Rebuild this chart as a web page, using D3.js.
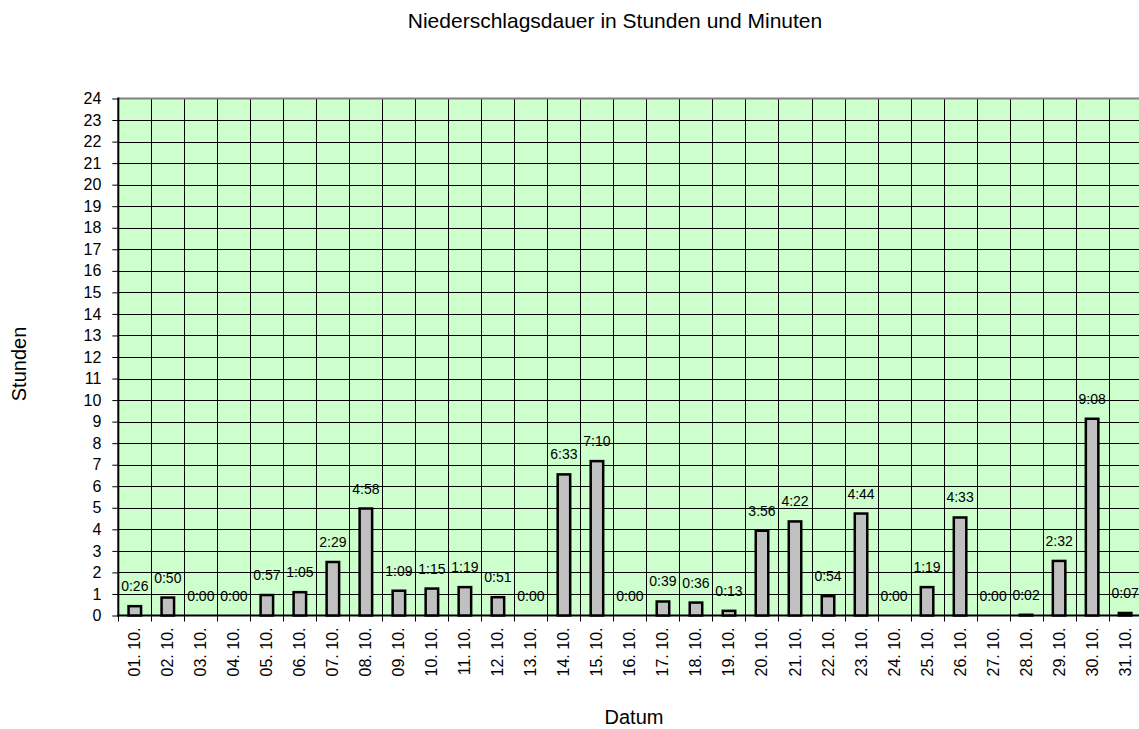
<!DOCTYPE html>
<html><head><meta charset="utf-8">
<script src="https://cdn.jsdelivr.net/npm/d3@7"></script>
<style>body{margin:0;background:#fff}svg{display:block;font-family:"Liberation Sans",Arial,sans-serif}</style>
</head><body>
<script>
const categories = ["01. 10.","02. 10.","03. 10.","04. 10.","05. 10.","06. 10.","07. 10.","08. 10.","09. 10.","10. 10.","11. 10.","12. 10.","13. 10.","14. 10.","15. 10.","16. 10.","17. 10.","18. 10.","19. 10.","20. 10.","21. 10.","22. 10.","23. 10.","24. 10.","25. 10.","26. 10.","27. 10.","28. 10.","29. 10.","30. 10.","31. 10."];
const durationLabels = ["0:26","0:50","0:00","0:00","0:57","1:05","2:29","4:58","1:09","1:15","1:19","0:51","0:00","6:33","7:10","0:00","0:39","0:36","0:13","3:56","4:22","0:54","4:44","0:00","1:19","4:33","0:00","0:02","2:32","9:08","0:07"];
const yTicks = d3.range(0, 25);
const hours = durationLabels.map(s => { const [h, m] = s.split(":").map(Number); return h + m / 60; });

(function () {
const W = 1139, H = 729;
const pLeft = 118.3, pTop = 98.5, pBottom = 615.5, bandW = 33.01;
const pRight = pLeft + bandW * categories.length;

const svg = d3.select("body").append("svg").attr("width", W).attr("height", H);
const x = d3.scaleBand().domain(categories).range([pLeft, pRight]).paddingInner(0).paddingOuter(0);
const y = d3.scaleLinear().domain([0, 24]).range([pBottom, pTop]);

svg.append("rect").attr("x", pLeft).attr("y", pTop).attr("width", pRight - pLeft).attr("height", pBottom - pTop).attr("fill", "#CCFFCC");

svg.append("g").selectAll("line").data(yTicks.filter(d => d > 0 && d < 24)).join("line")
  .attr("x1", pLeft).attr("x2", pRight).attr("y1", d => Math.round(y(d)) + 0.5).attr("y2", d => Math.round(y(d)) + 0.5)
  .attr("stroke", "#000").attr("stroke-width", 1);
svg.append("g").selectAll("line").data(categories.slice(1)).join("line")
  .attr("x1", d => Math.round(x(d)) + 0.5).attr("x2", d => Math.round(x(d)) + 0.5).attr("y1", pTop).attr("y2", pBottom)
  .attr("stroke", "#000").attr("stroke-width", 1);
svg.append("line").attr("x1", pLeft).attr("x2", pRight).attr("y1", y(24)).attr("y2", y(24)).attr("stroke", "#808080").attr("stroke-width", 2);

const yAxis = d3.axisLeft(y).tickValues(yTicks).tickSize(6).tickPadding(11).tickFormat(d3.format("d"));
const gy = svg.append("g").attr("transform", `translate(${pLeft},0)`).call(yAxis);
gy.select(".domain").remove();
gy.selectAll("line").attr("stroke", "#000");
gy.selectAll("text").attr("font-size", 16).attr("fill", "#000").attr("font-family", "Liberation Sans, Arial, sans-serif");
svg.append("line").attr("x1", pLeft).attr("x2", pLeft).attr("y1", pTop - 1).attr("y2", pBottom + 1).attr("stroke", "#000").attr("stroke-width", 2);

const gx = svg.append("g").attr("transform", `translate(0,${pBottom})`);
gx.selectAll("line").data(categories).join("line")
  .attr("x1", d => Math.round(x(d)) + 0.5).attr("x2", d => Math.round(x(d)) + 0.5).attr("y1", 0).attr("y2", 6).attr("stroke", "#000");
gx.selectAll("text").data(categories).join("text")
  .attr("transform", d => `translate(${x(d) + x.bandwidth() / 2 + 5.5},12) rotate(-90)`)
  .attr("text-anchor", "end").attr("font-size", 16).attr("fill", "#000").text(d => d);
svg.append("line").attr("x1", pLeft - 1).attr("x2", pRight).attr("y1", pBottom).attr("y2", pBottom).attr("stroke", "#000").attr("stroke-width", 2);

const bw = 12.5;
svg.append("g").selectAll("rect").data(categories.map((c, i) => ({c, v: hours[i]})).filter(d => d.v > 0)).join("rect")
  .attr("x", d => x(d.c) + x.bandwidth() / 2 - bw / 2).attr("y", d => y(d.v))
  .attr("width", bw).attr("height", d => pBottom - y(d.v))
  .attr("fill", "#C0C0C0").attr("stroke", "#000").attr("stroke-width", 2.5);

svg.append("g").selectAll("text").data(categories.map((c, i) => ({c, v: hours[i], t: durationLabels[i]}))).join("text")
  .attr("x", d => x(d.c) + x.bandwidth() / 2).attr("y", d => y(d.v) - 15)
  .attr("text-anchor", "middle").attr("font-size", 14).attr("fill", "#000").text(d => d.t);

svg.append("text").attr("x", 615).attr("y", 28).attr("text-anchor", "middle").attr("font-size", 21).attr("fill", "#000").text("Niederschlagsdauer in Stunden und Minuten");
svg.append("text").attr("transform", "translate(26,364) rotate(-90)").attr("text-anchor", "middle").attr("font-size", 20).attr("fill", "#000").text("Stunden");
svg.append("text").attr("x", 634).attr("y", 724).attr("text-anchor", "middle").attr("font-size", 20).attr("fill", "#000").text("Datum");
})();
</script>
</body></html>
